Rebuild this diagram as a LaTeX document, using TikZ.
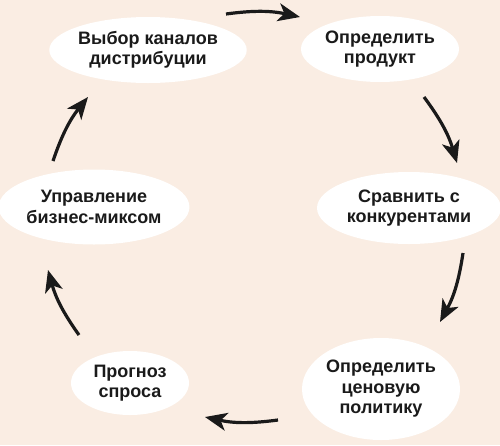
\documentclass[tikz,border=0pt]{standalone}
\usepackage{fontspec}
\setmainfont{Liberation Sans}
\usetikzlibrary{shapes.geometric,arrows.meta}
\definecolor{bg}{HTML}{FAEDE3}
\definecolor{ink}{HTML}{1A1A1A}
\tikzset{
  stage/.style={ellipse, fill=white, inner sep=0pt, align=center, text=ink,
    font=\fontsize{18}{20.5}\selectfont\bfseries},
  cyc/.style={draw=ink, line width=3.2pt, -{Stealth[length=22pt,width=18pt,inset=6pt]}, bend left=10}
}
\begin{document}
\begin{tikzpicture}[x=1pt,y=-1pt]
\fill[bg] (0,0) rectangle (500,445);
\useasboundingbox (0,0) rectangle (500,445);
\node[stage, minimum width=190pt, minimum height=66pt] (n1) at (148,50) {Выбор каналов\\дистрибуции};
\node[stage, minimum width=158pt, minimum height=66pt] (n2) at (380,49) {Определить\\продукт};
\node[stage, minimum width=184pt, minimum height=72pt] (n3) at (409,208) {Сравнить с\\конкурентами};
\node[stage, minimum width=178pt, minimum height=75pt] (n4) at (94,207) {Управление\\бизнес-миксом};
\node[stage, minimum width=118pt, minimum height=64pt] (n5) at (130,383) {Прогноз\\спроса};
\node[stage, minimum width=158pt, minimum height=102pt] (n6) at (381,389) {Определить\\ценовую\\политику};
\coordinate (a1s) at (226,14);  \coordinate (a1e) at (300,17);
\coordinate (a2s) at (424,97);  \coordinate (a2e) at (457,163);
\coordinate (a3s) at (463,253); \coordinate (a3e) at (440,322);
\coordinate (a4s) at (278,420); \coordinate (a4e) at (205,417);
\coordinate (a5s) at (79,335);  \coordinate (a5e) at (48,270);
\coordinate (a6s) at (53,161);  \coordinate (a6e) at (88,97);
\draw[cyc] (a1s) to (a1e);
\draw[cyc] (a2s) to (a2e);
\draw[cyc] (a3s) to (a3e);
\draw[cyc] (a4s) to (a4e);
\draw[cyc] (a5s) to (a5e);
\draw[cyc] (a6s) to (a6e);
\end{tikzpicture}
\end{document}
